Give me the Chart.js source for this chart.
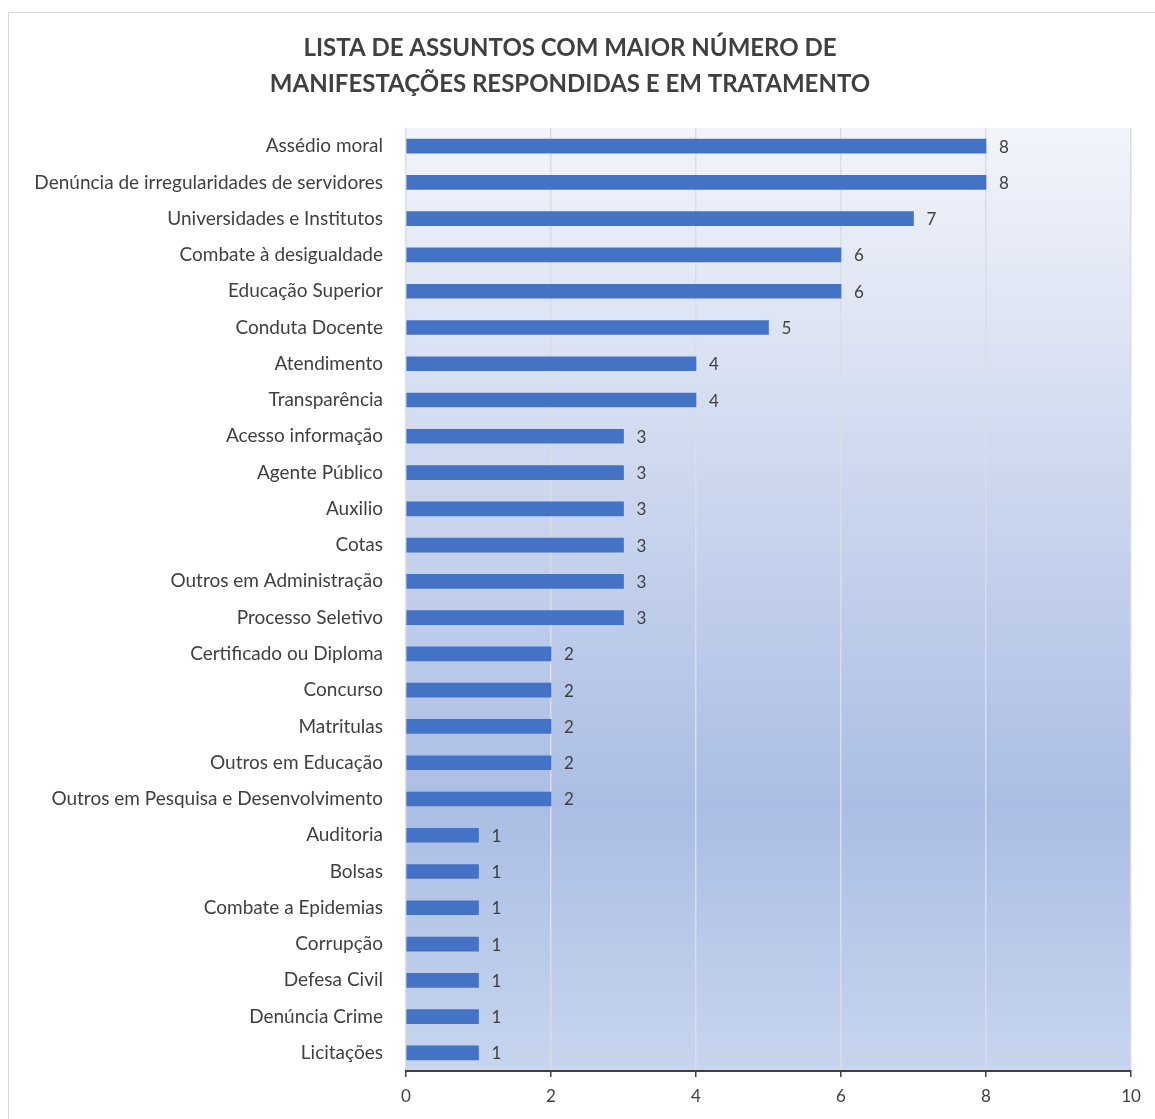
<!DOCTYPE html>
<html>
<head>
<meta charset="utf-8">
<script src="https://cdn.jsdelivr.net/npm/chart.js@4"></script>
<style>
  html, body { margin: 0; padding: 0; background: #fff; }
  #wrap {
    position: absolute; left: 8px; top: 12px;
    width: 1147px; height: 1107px;
    border-top: 1px solid #d9d9d9; border-left: 1px solid #d9d9d9;
  }
</style>
</head>
<body>
<div id="wrap"><canvas id="chart" width="1146" height="1106"></canvas></div>
<script>
const categories = [
  'Assédio moral',
  'Denúncia de irregularidades de servidores',
  'Universidades e Institutos',
  'Combate à desigualdade',
  'Educação Superior',
  'Conduta Docente',
  'Atendimento',
  'Transparência',
  'Acesso informação',
  'Agente Público',
  'Auxilio',
  'Cotas',
  'Outros em Administração',
  'Processo Seletivo',
  'Certificado ou Diploma',
  'Concurso',
  'Matritulas',
  'Outros em Educação',
  'Outros em Pesquisa e Desenvolvimento',
  'Auditoria',
  'Bolsas',
  'Combate a Epidemias',
  'Corrupção',
  'Defesa Civil',
  'Denúncia Crime',
  'Licitações'
];
const counts = [8, 8, 7, 6, 6, 5, 4, 4, 3, 3, 3, 3, 3, 3, 2, 2, 2, 2, 2, 1, 1, 1, 1, 1, 1, 1];
const titleLines = [
  'LISTA DE ASSUNTOS COM MAIOR NÚMERO DE',
  'MANIFESTAÇÕES RESPONDIDAS E EM TRATAMENTO'
];

const textColor = '#404040';

// fundo em degradê da área do gráfico
const plotBackground = {
  id: 'plotBackground',
  beforeDraw(chart) {
    const { ctx, chartArea: a } = chart;
    const g = ctx.createLinearGradient(0, a.top, 0, a.bottom);
    g.addColorStop(0, '#f2f4fa');
    g.addColorStop(0.72, '#aabde4');
    g.addColorStop(1, '#c7d5ee');
    ctx.save();
    ctx.fillStyle = g;
    ctx.fillRect(a.left, a.top, a.right - a.left, a.bottom - a.top);
    ctx.restore();
  }
};

// rótulos de valor no fim das barras
const valueLabels = {
  id: 'valueLabels',
  afterDatasetsDraw(chart) {
    const { ctx } = chart;
    const meta = chart.getDatasetMeta(0);
    ctx.save();
    ctx.fillStyle = textColor;
    ctx.font = '17px Lato';
    ctx.textBaseline = 'middle';
    ctx.textAlign = 'left';
    meta.data.forEach((bar, i) => {
      ctx.fillText(String(counts[i]), bar.x + 13, bar.y + 1);
    });
    ctx.restore();
  }
};

new Chart(document.getElementById('chart'), {
  type: 'bar',
  data: {
    labels: categories,
    datasets: [{
      data: counts,
      backgroundColor: '#4472c4',
      borderWidth: 0,
      barThickness: 14
    }]
  },
  options: {
    indexAxis: 'y',
    responsive: false,
    animation: false,
    layout: { padding: { left: 0, right: 24, top: 0, bottom: 0 } },
    scales: {
      x: {
        min: 0,
        max: 10,
        ticks: {
          stepSize: 2,
          color: textColor,
          font: { family: 'Lato', size: 17 },
          padding: 9
        },
        grid: {
          color: '#dadde3',
          lineWidth: 1.5,
          tickColor: textColor,
          tickLength: 6
        },
        border: { color: textColor, width: 2 },
        afterFit(scale) { scale.height = 48; }
      },
      y: {
        ticks: {
          color: textColor,
          font: { family: 'Lato', size: 19 },
          padding: 15,
          autoSkip: false
        },
        grid: { display: false },
        border: { display: false },
        afterFit(scale) { scale.width = 397; }
      }
    },
    plugins: {
      legend: { display: false },
      tooltip: { enabled: false },
      title: {
        display: true,
        text: titleLines,
        color: textColor,
        font: { family: 'Lato', size: 24, weight: 'bold', lineHeight: 1.5 },
        padding: { top: 17, bottom: 26 }
      }
    }
  },
  plugins: [plotBackground, valueLabels]
});
</script>
</body>
</html>
